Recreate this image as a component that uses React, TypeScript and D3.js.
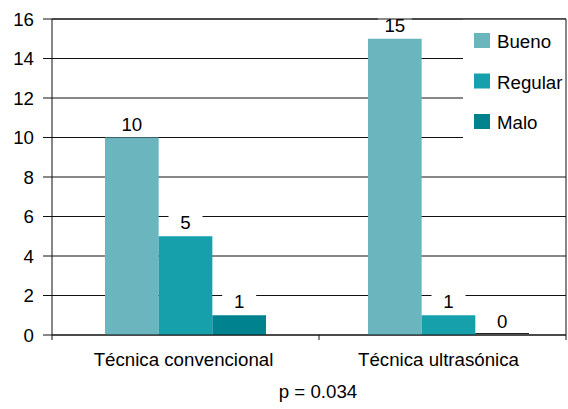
import React from "react";
import * as d3 from "d3";

const categories = ["Técnica convencional", "Técnica ultrasónica"];
const seriesNames = ["Bueno", "Regular", "Malo"];
const bueno = [10, 15];
const regular = [5, 1];
const malo = [1, 0];
const seriesValues = [bueno, regular, malo];
const colors = ["#6bb5bf", "#15a0ab", "#00838e"];
const yTicks = [0, 2, 4, 6, 8, 10, 12, 14, 16];
const footnote = "p = 0.034";

const W = 568;
const H = 409;
const left = 52;
const right = 566;
const top = 19;
const bottom = 335;
const FONT = "'Liberation Sans', Arial, Helvetica, sans-serif";
const FS = 18.7;

export default function App() {
  const y = d3.scaleLinear().domain([0, 16]).range([bottom, top]);
  const x0 = d3.scaleBand<string>().domain(categories).range([54, 580]).paddingInner(0).paddingOuter(0);
  const x1 = d3
    .scaleBand<string>()
    .domain(seriesNames)
    .range([0, x0.bandwidth()])
    .paddingInner(0)
    .paddingOuter(0.95);

  return (
    <svg width={W} height={H} style={{ position: "absolute", left: 0, top: 0, background: "#fff" }} fontFamily={FONT}>
      <rect x={0} y={0} width={W} height={H} fill="#fff" />
      {yTicks.map((t) => (
        <line key={"g" + t} x1={left - 9} x2={right} y1={y(t)} y2={y(t)} stroke="#111" strokeWidth={1} />
      ))}
      <rect x={463} y={y(16) + 0.5} width={right - 463} height={128} fill="#fff" />
      {categories.map((c, ci) =>
        seriesNames.map((s, si) => {
          const v = seriesValues[si][ci];
          const bx = (x0(c) as number) + (x1(s) as number);
          const bw = x1.bandwidth();
          return <rect key={c + s} x={bx} y={y(v)} width={bw} height={y(0) - y(v)} fill={colors[si]} />;
        })
      )}
      {categories.map((c, ci) =>
        seriesNames.map((s, si) => {
          const v = seriesValues[si][ci];
          if (v !== 0) return null;
          const bx = (x0(c) as number) + (x1(s) as number);
          return (
            <line key={"z" + c + s} x1={bx} x2={bx + x1.bandwidth()} y1={y(0) - 1.5} y2={y(0) - 1.5} stroke="#222" strokeWidth={1} />
          );
        })
      )}
      {categories.map((c, ci) =>
        seriesNames.map((s, si) => {
          const v = seriesValues[si][ci];
          const cx = (x0(c) as number) + (x1(s) as number) + x1.bandwidth() / 2;
          const by = y(v) - 7;
          return (
            <g key={"l" + c + s}>
              <rect x={cx - 17} y={by - 17} width={34} height={21} fill="#fff" />
              <text x={cx} y={by} textAnchor="middle" fontSize={FS} fill="#000">
                {v}
              </text>
            </g>
          );
        })
      )}
      <line x1={left} x2={left} y1={top} y2={bottom + 5} stroke="#111" strokeWidth={1} />
      <line x1={right} x2={right} y1={top} y2={bottom + 5} stroke="#111" strokeWidth={1} />
      <line x1={left} x2={right} y1={bottom} y2={bottom} stroke="#111" strokeWidth={1} />
      <line x1={left} x2={right} y1={top} y2={top} stroke="#111" strokeWidth={1} />
      {categories.slice(1).map((c) => (
        <line key={"t" + c} x1={(x0(c) as number) + 2} x2={(x0(c) as number) + 2} y1={bottom} y2={bottom + 5} stroke="#111" />
      ))}
      {yTicks.map((t) => (
        <text key={"yt" + t} x={34} y={y(t) + 6.5} textAnchor="end" fontSize={FS} fill="#000">
          {t}
        </text>
      ))}
      {categories.map((c, ci) => (
        <text
          key={"xl" + c}
          x={(x0(c) as number) + x0.bandwidth() / 2 - 2 - ci * 8}
          y={366}
          textAnchor="middle"
          fontSize={FS}
          fill="#000"
        >
          {c}
        </text>
      ))}
      <text x={318} y={398} textAnchor="middle" fontSize={FS} fill="#000">
        {footnote}
      </text>
      {seriesNames.map((s, i) => (
        <g key={"lg" + s} transform={`translate(474, ${33 + i * 40.5})`}>
          <rect x={0} y={0} width={16} height={15} fill={colors[i]} />
          <text x={23} y={15} fontSize={FS} fill="#000">
            {s}
          </text>
        </g>
      ))}
    </svg>
  );
}
